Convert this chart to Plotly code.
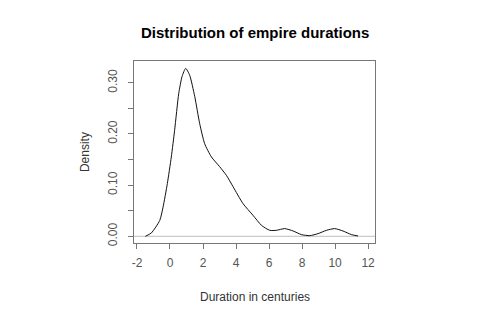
import plotly.graph_objects as go

# Density curve (x in centuries, y density)
dur_x = [-1.49, -1.13, -0.62, -0.42, -0.16, 0.08, 0.28, 0.53, 0.73, 0.95, 1.19, 1.50,
         1.80, 2.10, 2.51, 3.01, 3.42, 3.82, 4.42, 5.03, 5.54, 6.04, 6.45, 6.95, 7.46,
         7.96, 8.47, 8.97, 9.48, 9.98, 10.48, 10.99, 11.39]
dens_y = [0.0, 0.0065, 0.031, 0.057, 0.103, 0.155, 0.207, 0.279, 0.312, 0.328, 0.315, 0.273,
          0.22, 0.181, 0.155, 0.136, 0.119, 0.097, 0.064, 0.041, 0.0215, 0.0117, 0.0117, 0.015, 0.0104,
          0.0033, 0.0013, 0.0052, 0.0117, 0.015, 0.0104, 0.0033, 0.0007]

x_ticks = [-2, 0, 2, 4, 6, 8, 10, 12]
y_ticks = [0.0, 0.05, 0.10, 0.15, 0.20, 0.25, 0.30]
y_labels = ["0.00", "", "0.10", "", "0.20", "", "0.30"]

FONT = "Liberation Sans, Arial, sans-serif"
GRAY = "#555555"

fig = go.Figure()
fig.add_trace(go.Scatter(x=dur_x, y=dens_y, mode="lines",
                         line=dict(color="#111111", width=1, shape="spline", smoothing=0.6),
                         hoverinfo="skip", showlegend=False))

fig.add_shape(type="line", xref="paper", yref="y", x0=0, x1=1, y0=0, y1=0,
              line=dict(color="#bebebe", width=1), layer="below")

fig.update_layout(
    width=480, height=320,
    margin=dict(l=134, r=105, t=61, b=77),
    paper_bgcolor="white", plot_bgcolor="white",
    font=dict(family=FONT, size=12, color=GRAY),
    xaxis=dict(range=[-2.18, 12.42], tickvals=x_ticks, ticktext=[str(v) for v in x_ticks],
               showgrid=False, zeroline=False, showline=True, mirror=True, linecolor="#777777",
               ticks="outside", ticklen=5, tickcolor="#777777", ticklabelstandoff=4,
               tickfont=dict(size=12, color=GRAY)),
    yaxis=dict(range=[-0.0131, 0.3425], tickvals=y_ticks, ticktext=y_labels,
               showgrid=False, zeroline=False, showline=True, mirror=True, linecolor="#777777",
               ticks="outside", ticklen=5, tickcolor="#777777", tickangle=-90, ticklabelstandoff=6,
               tickfont=dict(size=12, color=GRAY)),
    annotations=[
        dict(text="<b>Distribution of empire durations</b>", xref="paper", yref="paper",
             x=0.5, y=1.154, showarrow=False, font=dict(size=15, color="black", family=FONT),
             xanchor="center", yanchor="middle"),
        dict(text="Duration in centuries", xref="paper", yref="paper", x=0.5, y=-0.297,
             showarrow=False, font=dict(size=12, color="#333333", family=FONT),
             xanchor="center", yanchor="middle"),
        dict(text="Density", xref="paper", yref="paper", x=-0.203, y=0.5, textangle=-90,
             showarrow=False, font=dict(size=12, color="#333333", family=FONT),
             xanchor="center", yanchor="middle"),
    ],
)

fig.write_html("out.html")
